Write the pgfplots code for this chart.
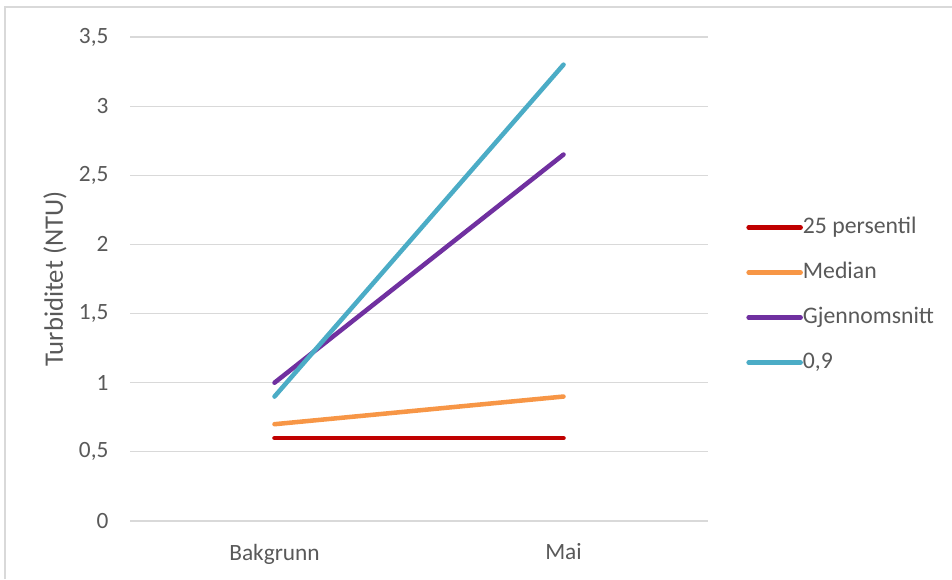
\documentclass[border=0pt]{standalone}
\usepackage{pgfplots}
\pgfplotsset{compat=1.18}
\usepackage{fontspec}
\setmainfont{Carlito}
\definecolor{txt}{HTML}{595959}
\definecolor{gridc}{HTML}{D9D9D9}
\definecolor{cRed}{HTML}{C00000}
\definecolor{cOra}{HTML}{F79646}
\definecolor{cPur}{HTML}{7030A0}
\definecolor{cTea}{HTML}{4BACC6}
\begin{document}
\begin{tikzpicture}
\useasboundingbox (0,0) rectangle (714pt,434.25pt);
\draw[color=gridc, line width=1.2pt] (3.75pt,0) -- (3.75pt,429pt) -- (714pt,429pt);
\begin{axis}[
  at={(97.5pt,43.5pt)}, anchor=south west,
  scale only axis, width=433.5pt, height=363pt,
  xmin=-0.5, xmax=1.5, ymin=0, ymax=3.5,
  xtick={0,1}, xticklabels={Bakgrunn,Mai},
  ytick={0,0.5,1,1.5,2,2.5,3,3.5},
  /pgf/number format/assume math mode=true,
  /pgf/number format/use comma,
  axis line style={draw=none},
  major tick length=0pt,
  ymajorgrids, grid style={color=gridc, line width=0.9pt},
  tick label style={color=txt, font=\fontsize{17.5}{21}\selectfont, inner sep=0pt},
  yticklabel style={xshift=-16pt},
  xticklabel style={yshift=-17pt},
  ylabel={\fontsize{20}{24}\selectfont Turbiditet (NTU)},
  ylabel style={at={(axis description cs:-0.13,0.5)}, anchor=center, color=txt},
  legend cell align=left,
  legend style={at={(1.059,0.467)}, anchor=west, draw=none, fill=none,
    font=\fontsize{17.8}{21}\selectfont, text=txt,
    nodes={inner sep=0pt, text height=13pt, text depth=3.5pt},
    row sep=17.25pt,
    /tikz/every even column/.style={column sep=2pt}},
  legend image code/.code={\draw[#1, line cap=round] (0pt,0pt) -- (39pt,0pt);},
  every axis plot/.append style={line width=3.4pt, line cap=round},
]
\addplot[cRed] coordinates {(0,0.6) (1,0.6)};
\addlegendentry{25 persentil}
\addplot[cOra] coordinates {(0,0.7) (1,0.9)};
\addlegendentry{Median}
\addplot[cPur] coordinates {(0,1.0) (1,2.65)};
\addlegendentry{Gjennomsnitt}
\addplot[cTea] coordinates {(0,0.9) (1,3.3)};
\addlegendentry{0,9}
\end{axis}
\end{tikzpicture}
\end{document}
